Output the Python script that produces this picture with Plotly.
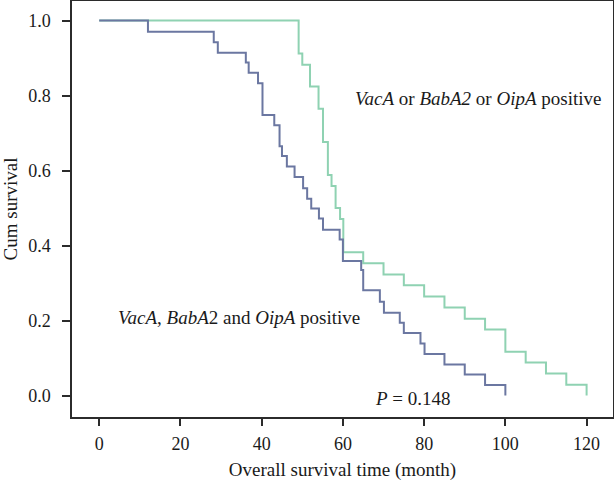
import plotly.graph_objects as go

# Kaplan-Meier curve for "VacA or BabA2 or OipA positive"
teal_time = [0, 49.1, 50.0, 51.9, 54.0, 55.1, 56.3, 57.2, 58.2, 59.3, 60.1,
             65, 70, 75, 80, 85, 90, 95, 100, 105, 110, 115, 120]
teal_surv = [1.0, 0.912, 0.882, 0.824, 0.765, 0.676, 0.588, 0.559, 0.500, 0.471, 0.382,
             0.353, 0.323, 0.294, 0.264, 0.235, 0.205, 0.176, 0.117, 0.088, 0.059, 0.029, 0.0]

# Kaplan-Meier curve for "VacA, BabA2 and OipA positive"
blue_time = [0, 12.0, 28.2, 29.2, 36.1, 36.8, 39.1, 40.2, 43.1, 44.4, 45.0, 46.2,
             48.1, 50.2, 51.2, 52.2, 54.1, 55.1, 59.2, 60.0, 64.5, 65.0, 69.1, 70.1,
             74.0, 75.0, 79.1, 80.1, 85.0, 90.0, 95.0, 100.0]
blue_surv = [1.0, 0.970, 0.942, 0.914, 0.888, 0.861, 0.833, 0.748, 0.721, 0.665, 0.639, 0.611,
             0.583, 0.553, 0.525, 0.499, 0.472, 0.442, 0.416, 0.359, 0.335, 0.281, 0.250, 0.221,
             0.194, 0.167, 0.139, 0.111, 0.083, 0.056, 0.028, 0.0]

x_ticks = [0, 20, 40, 60, 80, 100, 120]
y_ticks = [0.0, 0.2, 0.4, 0.6, 0.8, 1.0]

FONT = "Liberation Serif"
AXIS_COLOR = "#2b2b2b"
TXT = 19

fig = go.Figure()
fig.add_trace(go.Scatter(x=teal_time, y=teal_surv, mode="lines",
                         line=dict(shape="hv", color="#8fd2b2", width=2),
                         showlegend=False))
fig.add_trace(go.Scatter(x=blue_time, y=blue_surv, mode="lines",
                         line=dict(shape="hv", color="#6b77a1", width=2),
                         showlegend=False))

fig.add_annotation(x=62.5, y=0.793, xref="x", yref="y", xanchor="left", yanchor="middle",
                   text="<i>VacA</i> or <i>BabA2</i> or <i>OipA</i> positive",
                   showarrow=False, font=dict(family=FONT, size=TXT, color="#1a1a1a"))
fig.add_annotation(x=4.1, y=0.207, xref="x", yref="y", xanchor="left", yanchor="middle",
                   text="<i>VacA</i>, <i>BabA</i>2 and <i>OipA</i> positive",
                   showarrow=False, font=dict(family=FONT, size=TXT, color="#1a1a1a"))
fig.add_annotation(x=67.4, y=-0.009, xref="x", yref="y", xanchor="left", yanchor="middle",
                   text="<i>P</i> = 0.148",
                   showarrow=False, font=dict(family=FONT, size=TXT, color="#1a1a1a"))

fig.update_layout(
    width=614, height=499,
    margin=dict(l=72, r=1, t=1, b=82, autoexpand=False),
    paper_bgcolor="white", plot_bgcolor="white",
    font=dict(family=FONT, size=17, color="#1a1a1a"),
    xaxis=dict(range=[-6.7, 126.5], tickvals=x_ticks, ticks="outside", ticklen=7,
               tickwidth=1.5, tickcolor=AXIS_COLOR, showline=True, linecolor=AXIS_COLOR,
               linewidth=1.5, mirror=True, showgrid=False, zeroline=False,
               ticklabelstandoff=3, automargin=False,
               tickfont=dict(family=FONT, size=18),
               title=dict(text="Overall survival time (month)", standoff=9,
                          font=dict(family=FONT, size=TXT))),
    yaxis=dict(range=[-0.057, 1.052], tickvals=y_ticks, tickformat=".1f", ticks="outside",
               ticklen=8, tickwidth=1.5, tickcolor=AXIS_COLOR, showline=True,
               linecolor=AXIS_COLOR, linewidth=1.5, mirror=True, showgrid=False,
               zeroline=False, ticklabelstandoff=8, automargin=False,
               tickfont=dict(family=FONT, size=18),
               title=dict(text="Cum survival", standoff=10,
                          font=dict(family=FONT, size=TXT))),
)

fig.write_html("out.html", config={"displayModeBar": False},
               post_script="document.body.style.margin='0';")
